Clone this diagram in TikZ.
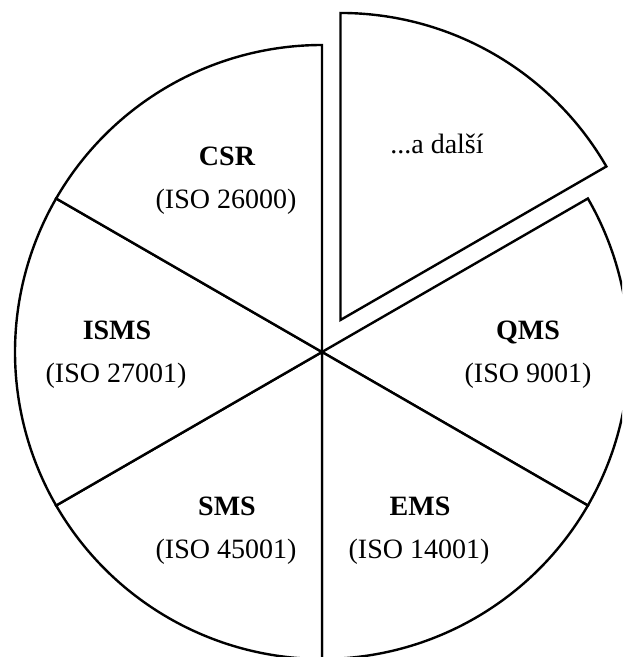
\documentclass[tikz,border=0pt]{standalone}
\usepackage{fontspec}
\setmainfont{Liberation Serif}
\usetikzlibrary{calc}
\begin{document}
\begin{tikzpicture}[x=0.75pt,y=0.75pt,
    sector/.style={draw=black,line width=1.8pt,line join=miter,fill=white},
    title/.style={anchor=base,font=\fontsize{21}{25}\selectfont\bfseries,inner sep=0pt},
    norm/.style={anchor=base,font=\fontsize{21}{25}\selectfont,inner sep=0pt}]
  \useasboundingbox (0,0) rectangle (622,-657);
  \clip (0,0) rectangle (622,-657);
  \def\R{307}
  \coordinate (c) at (322,-352);
  % five sectors of the chart
  \foreach \a in {-30,-90,-150,150,90}{
    \draw[sector] (c) -- ++(\a:\R) arc[start angle=\a,end angle=\a+60,radius=\R] -- cycle;
  }
  % the pulled-out sector
  \coordinate (c2) at ($(c)+(60:37)$);
  \draw[sector] (c2) -- ++(30:\R) arc[start angle=30,end angle=90,radius=\R] -- cycle;
  % labels
  \node[title] (csr) at (227,-165) {CSR};
  \node[norm] (csrn) at (226,-208) {(ISO 26000)};
  \node[title] (isms) at (117,-339) {ISMS};
  \node[norm] (ismsn) at (116,-382) {(ISO 27001)};
  \node[title] (qms) at (528,-339) {QMS};
  \node[norm] (qmsn) at (528,-382) {(ISO 9001)};
  \node[title] (sms) at (227,-515) {SMS};
  \node[norm] (smsn) at (226,-558) {(ISO 45001)};
  \node[title] (ems) at (420,-515) {EMS};
  \node[norm] (emsn) at (419,-558) {(ISO 14001)};
  \node[norm] (more) at (437,-153) {...a další};
\end{tikzpicture}
\end{document}
